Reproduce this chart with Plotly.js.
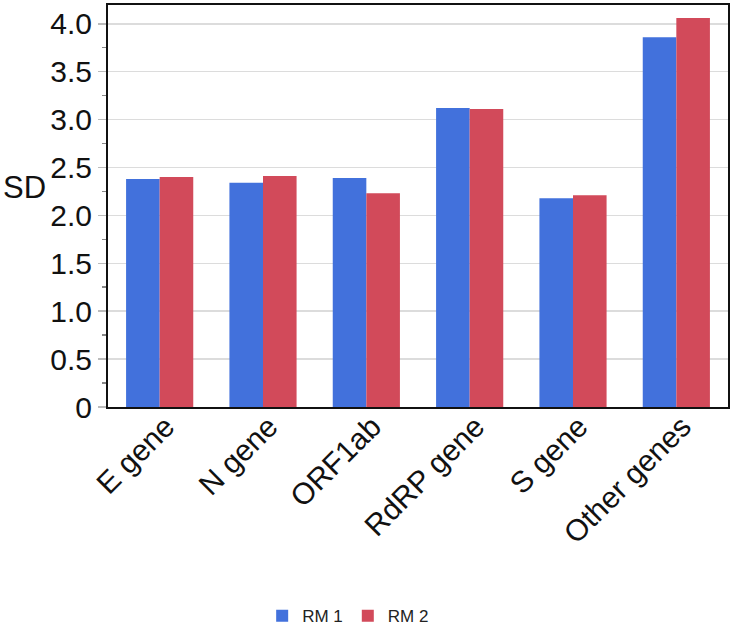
<!DOCTYPE html>
<html>
<head>
<meta charset="utf-8">
<script src="https://cdn.plot.ly/plotly-3.0.1.min.js"></script>
<style>html,body{margin:0;padding:0;background:#fff;}#chart{width:733px;height:630px;}</style>
</head>
<body>
<div id="chart"></div>
<script>
const categories = ["E gene", "N gene", "ORF1ab", "RdRP gene", "S gene", "Other genes"];
const rm1 = [2.38, 2.34, 2.39, 3.12, 2.18, 3.86];
const rm2 = [2.40, 2.41, 2.23, 3.11, 2.21, 4.06];
const yTickVals = [0, 0.5, 1, 1.5, 2, 2.5, 3, 3.5, 4];
const yTickText = ["0", "0.5", "1.0", "1.5", "2.0", "2.5", "3.0", "3.5", "4.0"];

const FONT = "Liberation Sans, Arial, sans-serif";
const traces = [
  {type: "bar", name: "RM 1", x: categories, y: rm1, marker: {color: "#4271DC"}},
  {type: "bar", name: "RM 2", x: categories, y: rm2, marker: {color: "#D24A5A"}}
];
const layout = {
  width: 733, height: 630,
  margin: {l: 108, r: 5, t: 5, b: 223},
  paper_bgcolor: "#fff", plot_bgcolor: "#fff",
  barmode: "group", bargap: 0.35, bargroupgap: 0,
  font: {family: FONT, color: "#111"},
  showlegend: true,
  legend: {
    orientation: "h", xref: "container", yref: "container",
    x: 0.475, xanchor: "center", y: 0.022, yanchor: "middle",
    font: {size: 17, family: FONT, color: "#222"}
  },
  xaxis: {
    tickangle: -45, tickfont: {size: 30, family: FONT, color: "#111"},
    showline: true, linecolor: "#111", linewidth: 2, mirror: true,
    ticks: "", showgrid: false, ticklabelstandoff: -12, ticklabelshift: 6
  },
  yaxis: {
    range: [0, 4.196], tickvals: yTickVals, ticktext: yTickText,
    tickfont: {size: 30, family: FONT, color: "#111"},
    showline: true, linecolor: "#111", linewidth: 2, mirror: true,
    showgrid: true, gridcolor: "#dcdcdc", gridwidth: 1.5,
    ticks: "outside", ticklen: 8, tickcolor: "#bbb", tickwidth: 1.5,
    minor: {dtick: 0.25, ticks: "outside", ticklen: 4, tickcolor: "#888", showgrid: false},
    zeroline: false
  },
  annotations: [{
    text: "SD", xref: "paper", yref: "paper", x: -0.172, xanchor: "left",
    y: 0.545, yanchor: "middle", showarrow: false,
    font: {size: 31, family: FONT, color: "#111"}
  }]
};
Plotly.newPlot("chart", traces, layout, {displayModeBar: false, staticPlot: true});
</script>
</body>
</html>
